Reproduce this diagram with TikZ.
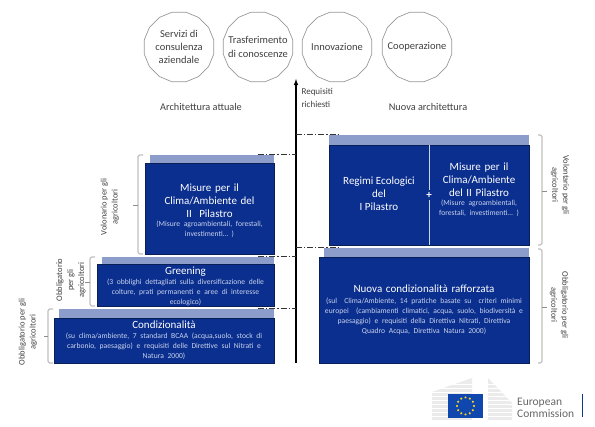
\documentclass[tikz,border=0pt]{standalone}
\usepackage{fontspec}
\setmainfont{Carlito}
\usetikzlibrary{shapes.geometric,calc}
\definecolor{boxblue}{HTML}{0B2F8E}
\definecolor{boxedge}{HTML}{0A1F55}
\definecolor{stripblue}{HTML}{8C9DCC}
\definecolor{subtext}{HTML}{C9D3EE}
\definecolor{greytext}{HTML}{404040}
\definecolor{eublue}{HTML}{0F47AF}
\definecolor{euyellow}{HTML}{FFD617}
\begin{document}
\begin{tikzpicture}[x=1pt,y=-1pt,
  main box/.style={rectangle,draw=boxedge,line width=0.8pt,fill=boxblue,text=white,
    align=center,inner sep=0pt,font=\fontsize{11}{13}\selectfont},
  box text/.style={align=center,text=white,inner sep=0pt,font=\fontsize{11}{13}\selectfont},
  top strip/.style={rectangle,fill=stripblue,inner sep=0pt},
  measure/.style={regular polygon,regular polygon sides=16,draw=black!40,fill=white,
    line width=0.7pt,inner sep=0pt,minimum size=71pt},
  measure text/.style={align=center,text=greytext,inner sep=0pt,font=\fontsize{10.5}{13.2}\selectfont},
  side label/.style={align=center,text=greytext,font=\fontsize{8.5}{11}\selectfont},
  head label/.style={text=greytext,font=\fontsize{10.3}{11}\selectfont},
  bracket/.style={draw=black!45,line width=0.6pt,rounded corners=1.5pt},
  level line/.style={draw=black!80,line width=0.7pt,dash pattern=on 6pt off 2pt on 1.2pt off 2pt}]

  \useasboundingbox (0,0) rectangle (595,427);

  \newcommand{\subt}[1]{{\color{subtext}\fontsize{7.6}{10.2}\selectfont #1\par}}

  % circles on top
  \node[measure,label={[measure text]center:{Servizi di\\consulenza\\aziendale}}] (servizi) at (179,47) {};
  \node[measure,label={[measure text]center:{Trasferimento\\di conoscenze}}] (trasf) at (258,47) {};
  \node[measure,label={[measure text]center:{Innovazione}}] (innov) at (337,47) {};
  \node[measure,label={[measure text]center:{Cooperazione}}] (coop) at (417,47) {};

  \node[head label] (attuale) at (201,107) {Architettura attuale};
  \node[head label] (nuova) at (428,107) {Nuova architettura};

  % axis
  \coordinate (axis top) at (296,79);
  \coordinate (axis bottom) at (296,363);
  \draw[-latex,line width=1.1pt,black] (axis bottom) -- (axis top);
  \node[side label,anchor=west,align=left,font=\fontsize{9}{12.5}\selectfont] (requisiti) at (298,98) {Requisiti\\richiesti};

  % left stack
  \node[top strip,minimum width=124pt,minimum height=8pt] (s1) at (212,159) {};
  \node[main box,minimum width=129pt,minimum height=91pt] (misure) at (209.5,208.5) {};
  \node[box text,text width=125pt] (misure text) at (209.5,210.5)
    {Misure per il\\Clima/Ambiente del\\II\ \ Pilastro\\[-1pt]\subt{(Misure agroambientali, forestali,\\investimenti\dots\ )}};
  \node[top strip,minimum width=172pt,minimum height=7pt] (s2) at (188,260.5) {};
  \node[main box,minimum width=177pt,minimum height=42pt] (greening) at (185.5,285) {};
  \node[box text,text width=170pt] (greening text) at (185.5,286.5)
    {Greening\\[0pt]\subt{(3 obblighi dettagliati sulla diversificazione delle\\colture, prati permanenti e aree di interesse\\ecologico)}};
  \node[top strip,minimum width=215pt,minimum height=9pt] (s3) at (166.5,313.5) {};
  \node[main box,minimum width=220pt,minimum height=45pt,text width=214pt] (cond) at (164,340.5)
    {Condizionalità\\[-1pt]\subt{(su clima/ambiente, 7 standard BCAA (acqua,suolo, stock di\\carbonio, paesaggio) e requisiti delle Direttive sul Nitrati e\\Natura 2000)}};

  % right stack
  \node[top strip,minimum width=200pt,minimum height=10pt] (s4) at (429,140) {};
  \node[main box,minimum width=200pt,minimum height=100pt] (regimi box) at (429,195) {};
  \node[text=white,font=\bfseries\fontsize{11}{11}\selectfont,inner sep=1.5pt,fill=boxblue] (piu) at (429,195) {+};
  \draw[draw=subtext,line width=0.5pt] (regimi box.north) -- (piu);
  \draw[draw=subtext,line width=0.5pt] (piu) -- (regimi box.south);
  \node[box text] (regimi) at (379,194) {Regimi Ecologici\\del\\I Pilastro};
  \node[box text,text width=96pt] (misure nuove) at (479,189.5)
    {Misure per il\\Clima/Ambiente\\del II Pilastro\\[-1pt]\subt{(Misure agroambientali,\\forestali, investimenti\dots\ )}};
  \node[top strip,minimum width=205pt,minimum height=9pt] (s5) at (426.5,252.5) {};
  \node[main box,minimum width=210pt,minimum height=106pt,text width=204pt] (rafforzata) at (424,310)
    {Nuova condizionalità rafforzata\\[0pt]\subt{(sul\ \ Clima/Ambiente, 14 pratiche basate su\ \ criteri minimi\\europei\ \ (cambiamenti climatici, acqua, suolo, biodiversità e\\paesaggio) e requisiti della Direttiva Nitrati, Direttiva\\Quadro Acqua, Direttiva Natura 2000)}};

  % level lines
  \draw[level line] (s1.north east) ++(-16,0) -- (axis top |- s1.north);
  \draw[level line] (s2.north east) ++(-16,0) -- (axis top |- s2.north);
  \draw[level line] (s3.north east) ++(-16,0) -- (axis top |- s3.north);
  \draw[level line] (axis top |- s4.north) -- ++(44,0);
  \draw[level line] (axis top |- s5.north) -- ++(44,0);

  % brackets
  \draw[bracket] (143,155) -- (138,155) -- (138,254) -- (143,254);
  \draw[bracket] (138,205) -- (133,205);
  \draw[bracket] (95,257) -- (90,257) -- (90,306) -- (95,306);
  \draw[bracket] (90,282) -- (85,282);
  \draw[bracket] (53,309) -- (48,309) -- (48,363) -- (53,363);
  \draw[bracket] (48,336) -- (44,336);
  \draw[bracket] (538,135) -- (542,135) -- (542,245) -- (538,245);
  \draw[bracket] (542,191) -- (547,191);
  \draw[bracket] (538,249) -- (542,249) -- (542,363) -- (538,363);
  \draw[bracket] (542,307) -- (547,307);

  \node[side label,rotate=90] (vol left) at (110,207) {Volonario per gli\\agricoltori};
  \node[side label,rotate=90] (obb mid) at (71,280) {Obbligatorio\\per gli\\agricoltori};
  \node[side label,rotate=90] (obb low) at (28,332) {Obbligatorio per gli\\agricoltori};
  \node[side label,rotate=-90] (vol right) at (560,185) {Volontario per gli\\agricoltori};
  \node[side label,rotate=-90] (obb right) at (559,305) {Obbligatorio per gli\\agricoltori};

  % logo
  \fill[black!8] (432,392) -- (472,378) -- (472,420) -- (432,420) -- cycle;
  \fill[black!8] (488,378) -- (512,403) -- (512,420) -- (488,420) -- cycle;
  \foreach \y in {384,388,...,416}
    \draw[white,line width=0.4pt] (432,\y) -- (512,\y);
  \node[rectangle,fill=eublue,minimum width=35pt,minimum height=24pt,inner sep=0pt] (flag) at (465.5,406) {};
  \foreach \a in {0,30,...,330}
    \node[star,star points=5,fill=euyellow,inner sep=0pt,minimum size=2.4pt] (star\a) at ($(flag)+(\a:8.5)$) {};
  \node[anchor=west,align=left,text=black!60,inner sep=0pt,font=\fontsize{11.5}{12.5}\selectfont] (ec) at (517,408) {European\\Commission};
  \fill[eublue!80!black] (581.5,394) rectangle (583,417);
\end{tikzpicture}
\end{document}
